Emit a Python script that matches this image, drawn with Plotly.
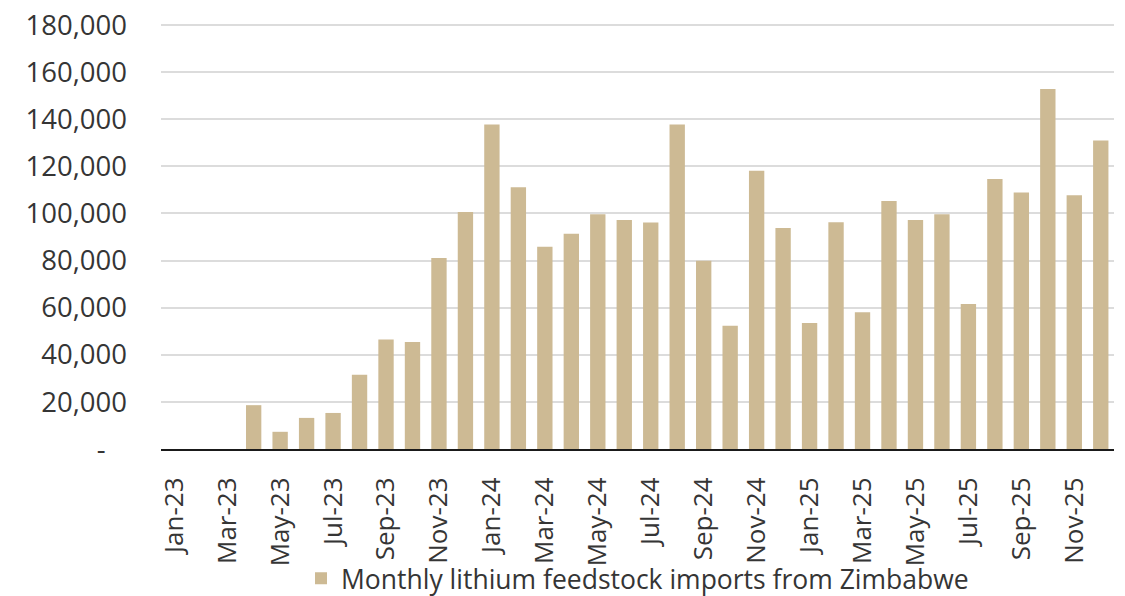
import plotly.graph_objects as go

months = ["Jan-23", "Feb-23", "Mar-23", "Apr-23", "May-23", "Jun-23", "Jul-23", "Aug-23", "Sep-23",
          "Oct-23", "Nov-23", "Dec-23", "Jan-24", "Feb-24", "Mar-24", "Apr-24", "May-24", "Jun-24",
          "Jul-24", "Aug-24", "Sep-24", "Oct-24", "Nov-24", "Dec-24", "Jan-25", "Feb-25", "Mar-25",
          "Apr-25", "May-25", "Jun-25", "Jul-25", "Aug-25", "Sep-25", "Oct-25", "Nov-25", "Dec-25"]

imports = [None, None, None, 18600, 7300, 13200, 15300, 31500, 46500,
           45400, 81100, 100600, 137700, 111100, 85800, 91400, 99600, 97200,
           96100, 137700, 79900, 52300, 118100, 93800, 53500, 96200, 58000,
           105300, 97200, 99600, 61500, 114600, 108900, 152800, 107700, 130900]

series_name = "Monthly lithium feedstock imports from Zimbabwe"

y_ticks = [0, 20000, 40000, 60000, 80000, 100000, 120000, 140000, 160000, 180000]
y_tick_text = ["-\u00a0\u00a0\u00a0", "20,000", "40,000", "60,000", "80,000", "100,000",
               "120,000", "140,000", "160,000", "180,000"]

x_tick_labels = months[::2]

font_family = "Open Sans, DejaVu Sans, sans-serif"
text_color = "#353535"
grid_color = "#dcdcdc"

fig = go.Figure()
fig.add_trace(go.Bar(
    x=months, y=imports, name=series_name,
    marker=dict(color="#CDBA94", line=dict(width=0)),
    showlegend=True,
))

fig.update_layout(
    width=1125, height=596,
    margin=dict(l=153, r=19, t=15, b=155, autoexpand=False),
    paper_bgcolor="white", plot_bgcolor="white",
    bargap=0.42,
    font=dict(family=font_family, size=26, color=text_color),
    showlegend=True,
    legend=dict(orientation="h", x=0.5, xanchor="center", y=-0.304, yanchor="middle",
                font=dict(size=26.5, color=text_color), itemwidth=30,
                bgcolor="rgba(0,0,0,0)"),
)

# top gridline (Plotly drops the gridline at the very edge of the range)
fig.add_shape(type="line", xref="paper", x0=0, x1=1, yref="y", y0=y_ticks[-1], y1=y_ticks[-1],
              line=dict(color=grid_color, width=1.5), layer="below")

fig.update_xaxes(
    type="category", automargin=False,
    tickmode="array", tickvals=x_tick_labels, ticktext=x_tick_labels,
    tickangle=-90,
    showgrid=False,
    showline=True, linecolor="#1a1a1a", linewidth=2,
    ticks="", ticklabelstandoff=16, ticklabeloverflow="allow",
    tickfont=dict(size=26, color=text_color),
)
fig.update_yaxes(
    range=[0, 180800], automargin=False,
    tickmode="array", tickvals=y_ticks, ticktext=y_tick_text,
    showgrid=True, gridcolor=grid_color, gridwidth=1.5,
    zeroline=False, showline=False,
    ticks="", ticklabelstandoff=33, ticklabeloverflow="allow",
    tickfont=dict(size=27.5, color=text_color),
)

fig.write_html("out.html")
